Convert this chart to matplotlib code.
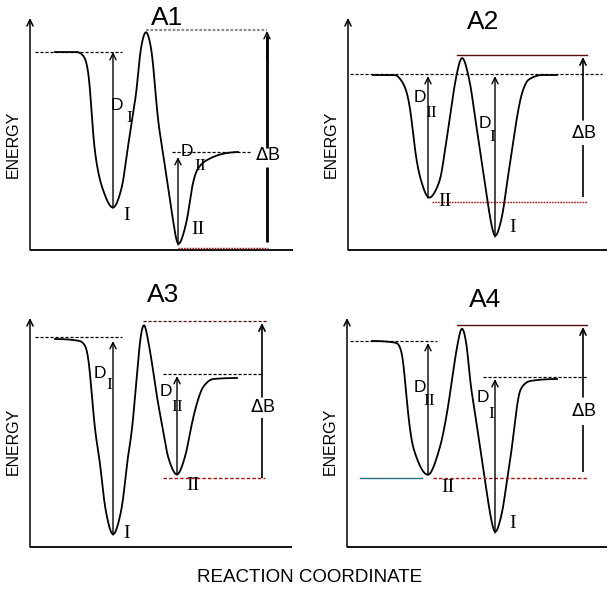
import numpy as np
import matplotlib
matplotlib.use('Agg')
import matplotlib.pyplot as plt

# curve anchors (reaction coordinate, energy), arbitrary units
A1_X = [25, 48, 50, 55, 58, 60, 62, 65, 72, 83, 92, 97, 102, 107, 110, 116, 122, 125, 128, 133, 138, 143, 148, 157, 162, 167, 177, 197, 208]
A1_E = [198, 198, 197, 192, 180, 163, 130, 97, 63, 42, 63, 97, 130, 163, 197, 219, 197, 163, 130, 97, 63, 30, 5, 30, 63, 80, 90, 97, 98]

A2_X = [25, 47, 55, 60, 64, 67, 72, 81, 92, 97, 102, 107, 114, 122, 127, 132, 137, 142, 147, 154, 159, 164, 169, 174, 180, 194, 209]
A2_E = [175, 175, 167, 153, 127, 100, 73, 52, 70, 100, 133, 167, 193, 167, 133, 100, 67, 33, 13, 33, 67, 100, 133, 157, 170, 175, 175]

A3_X = [25, 50, 56, 59, 62, 65, 70, 75, 83, 92, 97, 102, 105, 108, 110, 114, 118, 122, 127, 133, 138, 147, 155, 162, 167, 173, 183, 207]
A3_E = [208, 206, 200, 184, 150, 117, 84, 40, 12, 40, 84, 117, 150, 184, 207, 224, 207, 184, 150, 117, 90, 72, 90, 124, 144, 160, 168, 169]

A4_X = [25, 50, 55, 58, 61, 66, 81, 93, 100, 105, 110, 115, 120, 123, 128, 133, 138, 143, 148, 155, 160, 165, 169, 173, 183, 210]
A4_E = [206, 204, 194, 167, 134, 100, 72, 100, 134, 167, 200, 220, 200, 167, 134, 100, 67, 34, 14, 34, 67, 100, 134, 157, 166, 168]

# reference energy levels per panel
A1_LEV = {'left': 198, 'right': 98, 'barrier': 220, 'well_I': 42, 'well_II': 2.5}
A2_LEV = {'left': 176, 'right': 176, 'barrier': 195, 'well_I': 13, 'well_II': 48}
A3_LEV = {'left': 210, 'right': 173, 'barrier': 226, 'well_I': 12, 'well_II': 69}
A4_LEV = {'left': 206, 'right': 170, 'barrier': 222, 'well_I': 14, 'well_II': 69}

TITLES = ['A1', 'A2', 'A3', 'A4']

FW, FH = 608, 590
SANS = 'Liberation Sans'
SERIF = 'Liberation Serif'
DASH = (0, (2.5, 1.5))
DOT = (0, (1.2, 0.8))
RED = '#b01010'
DARKRED = '#5a0f0f'

fig = plt.figure(figsize=(FW / 100, FH / 100), dpi=100)


def pchip(x, y, xs):
    x = np.asarray(x, float); y = np.asarray(y, float)
    h = np.diff(x); d = np.diff(y) / h
    m = np.zeros_like(y)
    for k in range(1, len(x) - 1):
        if d[k - 1] * d[k] > 0:
            w1 = 2 * h[k] + h[k - 1]; w2 = h[k] + 2 * h[k - 1]
            m[k] = (w1 + w2) / (w1 / d[k - 1] + w2 / d[k])
    i = np.clip(np.searchsorted(x, xs) - 1, 0, len(h) - 1)
    t = (xs - x[i]) / h[i]
    return ((2 * t**3 - 3 * t**2 + 1) * y[i] + (t**3 - 2 * t**2 + t) * h[i] * m[i]
            + (-2 * t**3 + 3 * t**2) * y[i + 1] + (t**3 - t**2) * h[i] * m[i + 1])


def smooth_curve(x, e, n=1200, sigma=1.3):
    # pchip through the read anchors, then a light blur to iron out reading jitter
    xs = np.linspace(x[0], x[-1], n)
    ys = pchip(x, e, xs)
    step = xs[1] - xs[0]
    k = np.arange(-int(4 * sigma / step), int(4 * sigma / step) + 1) * step
    g = np.exp(-0.5 * (k / sigma) ** 2); g /= g.sum()
    pad = len(k) // 2
    ys = np.convolve(np.pad(ys, pad, mode='edge'), g, mode='valid')
    return xs, ys


def arrow(ax, x, e0, e1, lw=1.0):
    ax.annotate('', xy=(x, e1), xytext=(x, e0), annotation_clip=False,
                arrowprops=dict(arrowstyle='->,head_length=0.45,head_width=0.22', lw=lw, color='k',
                                shrinkA=0, shrinkB=0))


def hline(ax, e, x0, x1, color='k', ls=DASH, lw=0.9):
    ax.plot([x0, x1], [e, e], color=color, ls=ls, lw=lw, clip_on=False)


def vline(ax, x, e0, e1, lw=1.0):
    ax.plot([x, x], [e0, e1], color='k', lw=lw, clip_on=False, solid_capstyle='butt')


def panel(x0, y0, w, h, title, tx, ty, curve_x, curve_e):
    ax = fig.add_axes([x0 / FW, (FH - y0) / FH, w / FW, h / FH])
    ax.set_xlim(0, w); ax.set_ylim(0, h); ax.axis('off')
    ax.plot([0, w], [0, 0], color='k', lw=1.3, clip_on=False, solid_capstyle='butt')
    arrow(ax, 0, 0, h, lw=1.1)
    ax.text(-17, 106, 'ENERGY', rotation=90, ha='center', va='center', fontsize=11.5, family=SANS)
    ax.text(tx, ty, title, ha='center', va='center', fontsize=19, family=SANS)
    xs, ys = smooth_curve(curve_x, curve_e)
    ax.plot(xs, ys, color='k', lw=1.3, clip_on=False)
    return ax


def dlabel(ax, x, e, sub, sx, se):
    ax.text(x, e, 'D', ha='center', va='center', fontsize=12.5, family=SANS)
    ax.text(sx, se, sub, ha='center', va='center', fontsize=12.5, family=SERIF)


def roman(ax, x, e, s):
    ax.text(x, e, s, ha='center', va='center', fontsize=14, family=SERIF)


# ---- A1 ----
ax = panel(30, 250, 263, 232, TITLES[0], 137, 232, A1_X, A1_E)
L = A1_LEV
hline(ax, L['left'], 5, 92)
hline(ax, L['barrier'], 116, 237, color='#8c8c8c', ls=DOT, lw=1.6)
hline(ax, L['right'], 142, 220)
hline(ax, L['well_II'], 148, 238, color=RED, ls=DOT, lw=1.0)
arrow(ax, 83, L['well_I'], L['left'])
arrow(ax, 148, 5, L['right'] - 5)
vline(ax, 237, 8, 83, lw=2.0)
vline(ax, 237, 102, L['barrier'] - 6, lw=2.0)
arrow(ax, 237, 190, L['barrier'] - 1, lw=1.0)
ax.text(238, 95, r'$\Delta$B', ha='center', va='center', fontsize=13, family=SANS)
dlabel(ax, 87, 145, 'I', 99, 132)
dlabel(ax, 157, 98, 'II', 170, 84)
roman(ax, 97, 35, 'I')
roman(ax, 168, 20, 'II')

# ---- A2 ----
ax = panel(348, 250, 259, 232, TITLES[1], 135, 228, A2_X, A2_E)
L = A2_LEV
hline(ax, L['left'], 2, 254)
hline(ax, L['barrier'], 109, 239, color=DARKRED, ls='-', lw=1.0)
hline(ax, L['well_II'], 84, 239, color=RED, ls=DOT, lw=1.0)
arrow(ax, 80, 52, L['left'] - 2)
arrow(ax, 147, L['well_I'], L['left'] - 2)
vline(ax, 235, 53, 105, lw=1.2)
arrow(ax, 235, 130, L['barrier'] - 2, lw=1.2)
ax.text(236, 117, r'$\Delta$B', ha='center', va='center', fontsize=13, family=SANS)
dlabel(ax, 72, 152, 'II', 83, 137)
dlabel(ax, 137, 127, 'I', 144, 113)
roman(ax, 97, 48, 'II')
roman(ax, 165, 23, 'I')

# ---- A3 ----
ax = panel(30, 547, 262, 229, TITLES[2], 133, 252, A3_X, A3_E)
L = A3_LEV
hline(ax, L['left'], 5, 92)
hline(ax, L['barrier'], 113, 237, color=DARKRED, ls=DASH, lw=0.9)
hline(ax, L['right'], 133, 233)
hline(ax, L['well_II'], 133, 235, color=RED, ls=DASH, lw=1.0)
arrow(ax, 83, L['well_I'], L['left'] - 4)
arrow(ax, 147, 72, L['right'] - 2)
vline(ax, 232, L['well_II'], 129, lw=1.2)
arrow(ax, 232, 150, L['barrier'] - 2, lw=1.2)
ax.text(233, 139, r'$\Delta$B', ha='center', va='center', fontsize=13, family=SANS)
dlabel(ax, 70, 174, 'I', 79, 162)
dlabel(ax, 136, 155, 'II', 147, 140)
roman(ax, 97, 14, 'I')
roman(ax, 163, 62, 'II')

# ---- A4 ----
ax = panel(347, 547, 260, 229, TITLES[3], 138, 247, A4_X, A4_E)
L = A4_LEV
hline(ax, L['left'], 3, 90)
hline(ax, L['barrier'], 110, 240, color=DARKRED, ls='-', lw=1.0)
hline(ax, L['right'], 136, 240)
hline(ax, L['well_II'], 13, 75, color='#2a7080', ls='-', lw=1.0)
hline(ax, L['well_II'], 86, 240, color=RED, ls=DASH, lw=1.0)
arrow(ax, 81, 72, L['left'] - 2)
arrow(ax, 148, L['well_I'], L['right'] - 2)
vline(ax, 236, 75, 122, lw=1.2)
arrow(ax, 236, 150, L['barrier'] - 2, lw=1.2)
ax.text(237, 135, r'$\Delta$B', ha='center', va='center', fontsize=13, family=SANS)
dlabel(ax, 73, 160, 'II', 82, 146)
dlabel(ax, 136, 149, 'I', 144, 133)
roman(ax, 101, 60, 'II')
roman(ax, 166, 24, 'I')

fig.text(310 / FW, 1 - 578 / FH, 'REACTION COORDINATE', ha='center', va='center', fontsize=13.5, family=SANS)

fig.savefig('out.png', dpi=100, facecolor='white')
